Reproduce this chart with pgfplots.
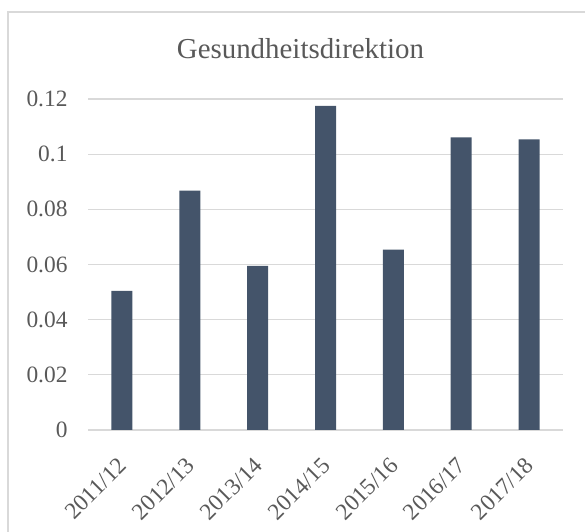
\documentclass[border=0pt]{standalone}
\usepackage{fontspec}
\setmainfont{Liberation Serif}
\usepackage{pgfplots}
\pgfplotsset{compat=1.18}
\definecolor{BarBlue}{HTML}{44546A}
\definecolor{GridGray}{HTML}{D9D9D9}
\definecolor{TextGray}{HTML}{595959}
\definecolor{FrameGray}{HTML}{D9D9D9}

\begin{document}
\begin{tikzpicture}[x=1bp,y=1bp]
\useasboundingbox (0,0) rectangle (585,532);
\draw[FrameGray, line width=1.3bp] (8,-20) -- (8,520) -- (600,520);
\node[TextGray, font=\fontsize{29}{33}\selectfont, anchor=base] at (300.5,473) {Gesundheitsdirektion};
\begin{axis}[
  at={(88bp,102bp)},
  anchor=south west,
  scale only axis,
  width=475bp,
  height=331bp,
  ybar,
  bar width=21bp,
  xmin=-0.5, xmax=6.5,
  ymin=0, ymax=0.12,
  xtick={0,...,6},
  xticklabels={2011/12,2012/13,2013/14,2014/15,2015/16,2016/17,2017/18},
  ytick={0,0.02,0.04,0.06,0.08,0.1,0.12},
  yticklabels={0,0.02,0.04,0.06,0.08,0.1,0.12},
  axis x line*=bottom,
  axis y line*=left,
  y axis line style={draw=none},
  x axis line style={GridGray, line width=1.3bp},
  major tick length=0pt,
  ymajorgrids,
  grid style={GridGray, line width=1.3bp},
  tick label style={TextGray, font=\fontsize{23.5}{26}\selectfont},
  yticklabel style={xshift=-17bp},
  xticklabel style={xshift=-5bp, yshift=-21bp, rotate=45, anchor=north east},
]
\addplot[fill=BarBlue, draw=none] coordinates {
  (0,0.0504) (1,0.0868) (2,0.0595) (3,0.1175) (4,0.0654) (5,0.1061) (6,0.1054)
};
\end{axis}
\end{tikzpicture}
\end{document}
